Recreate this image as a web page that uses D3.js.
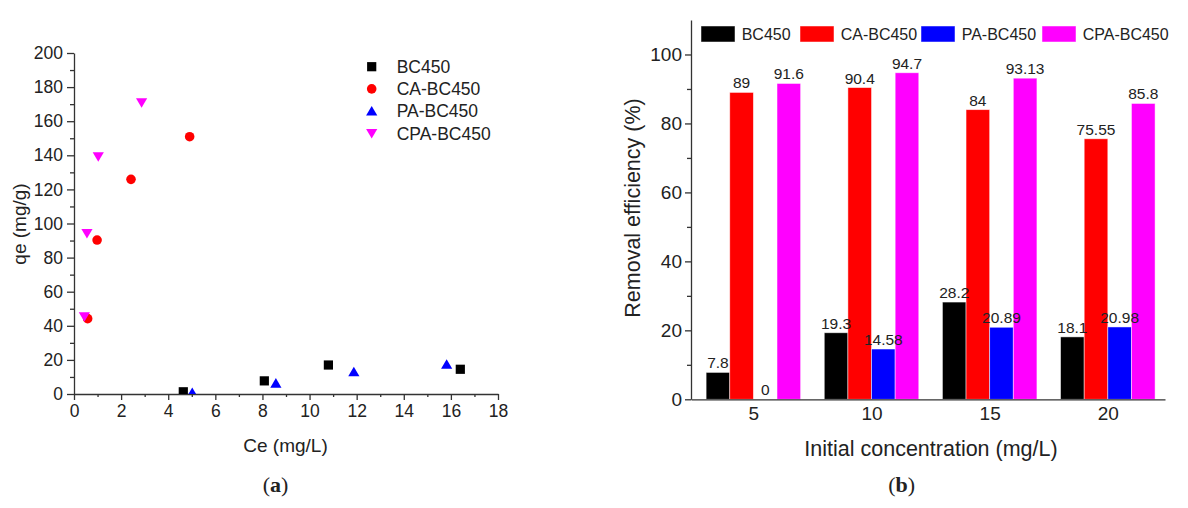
<!DOCTYPE html>
<html>
<head>
<meta charset="utf-8">
<script src="https://d3js.org/d3.v7.min.js"></script>
<style>
body { margin: 0; background: #fff; }
svg { display: block; }
svg text { font-family: "Liberation Sans", Arial, sans-serif; fill: #222; }
.axis path, .axis line { stroke: #333; stroke-width: 1.3; }
.caption { font-family: "Liberation Serif", "DejaVu Serif", serif; font-size: 22px; }
</style>
</head>
<body>
<div id="root"></div>
<script>
// ---- (a) isotherm data ----
let seriesNames = ['BC450', 'CA-BC450', 'PA-BC450', 'CPA-BC450'];
let seriesColors = ['#000000', '#ff0000', '#0000ff', '#ff00ff'];
let seriesShapes = ['square', 'circle', 'triangle', 'down'];

let bcCe = [4.64, 8.08, 10.8, 16.4];
let bcQe = [1.3, 7.7, 17, 14.5];
let caCe = [0.58, 0.98, 2.42, 4.91];
let caQe = [44.2, 90.3, 125.9, 150.9];
let paCe = [5.02, 8.57, 11.88, 15.82];
let paQe = [0.8, 6.3, 13, 17.4];
let cpaCe = [0.44, 0.55, 1.03, 2.87];
let cpaQe = [45.4, 94.2, 139.2, 170.9];

// ---- (b) removal efficiency data ----
let concentrations = [5, 10, 15, 20];
let bcEff = [7.8, 19.3, 28.2, 18.1];
let caEff = [89, 90.4, 84, 75.55];
let paEff = [0, 14.58, 20.89, 20.98];
let cpaEff = [91.6, 94.7, 93.13, 85.8];

let svg = d3.select('#root').append('svg')
    .attr('width', 1188)
    .attr('height', 508);

let marker = (shape) => {
    if (shape === 'square') return 'M-4.6,-4.6H4.6V4.6H-4.6Z';
    if (shape === 'circle') return d3.symbol().type(d3.symbolCircle).size(72)();
    if (shape === 'triangle') return 'M0,-5.2L5.6,4.4L-5.6,4.4Z';
    return 'M0,5.2L5.6,-4.4L-5.6,-4.4Z';
};

// ================= chart (a) =================
let xL = d3.scaleLinear().domain([0, 18]).range([74, 498]);
let yL = d3.scaleLinear().domain([0, 200]).range([394, 53]);

svg.append('defs').append('clipPath').attr('id', 'clip-a')
    .append('rect')
    .attr('x', xL(0)).attr('y', yL(200))
    .attr('width', xL(18) - xL(0)).attr('height', yL(0) - yL(200));

let gL = svg.append('g');

gL.append('g').attr('class', 'axis')
    .attr('transform', `translate(0,${yL(0)})`)
    .call(d3.axisBottom(xL).tickValues(d3.range(1, 18, 2)).tickSize(3).tickFormat('').tickSizeOuter(0))
    .call(g => g.select('.domain').remove());
gL.append('g').attr('class', 'axis')
    .attr('transform', `translate(0,${yL(0)})`)
    .call(d3.axisBottom(xL).tickValues(d3.range(0, 19, 2)).tickSize(6).tickSizeOuter(0).tickPadding(5))
    .call(g => g.selectAll('text').attr('font-size', 17.5));

gL.append('g').attr('class', 'axis')
    .attr('transform', `translate(${xL(0)},0)`)
    .call(d3.axisLeft(yL).tickValues(d3.range(10, 200, 20)).tickSize(4).tickFormat('').tickSizeOuter(0))
    .call(g => g.select('.domain').remove());
gL.append('g').attr('class', 'axis')
    .attr('transform', `translate(${xL(0)},0)`)
    .call(d3.axisLeft(yL).tickValues(d3.range(0, 201, 20)).tickSize(7).tickSizeOuter(0).tickPadding(4))
    .call(g => g.selectAll('text').attr('font-size', 17.5));

gL.append('text')
    .attr('transform', `translate(25.5,224) rotate(-90)`)
    .attr('text-anchor', 'middle')
    .attr('font-size', 19)
    .text('qe (mg/g)');
gL.append('text')
    .attr('x', 285.5).attr('y', 452)
    .attr('text-anchor', 'middle')
    .attr('font-size', 19)
    .text('Ce (mg/L)');

let scatterSets = [
    { ce: bcCe, qe: bcQe },
    { ce: caCe, qe: caQe },
    { ce: paCe, qe: paQe },
    { ce: cpaCe, qe: cpaQe }
];
let pts = gL.append('g').attr('clip-path', 'url(#clip-a)');
scatterSets.forEach((s, k) => {
    pts.selectAll(null)
        .data(s.ce.map((c, i) => [c, s.qe[i]]))
        .join('path')
        .attr('transform', d => `translate(${xL(d[0])},${yL(d[1])})`)
        .attr('d', marker(seriesShapes[k]))
        .attr('fill', seriesColors[k]);
});

let legA = gL.append('g');
seriesNames.forEach((name, k) => {
    let y = 66.7 + k * 22.2;
    legA.append('path')
        .attr('transform', `translate(371.7,${y})`)
        .attr('d', marker(seriesShapes[k]))
        .attr('fill', seriesColors[k]);
    legA.append('text')
        .attr('x', 396.7).attr('y', y)
        .attr('dy', '0.36em')
        .attr('font-size', 17.5)
        .text(name);
});

svg.append('text').attr('class', 'caption')
    .attr('x', 275.5).attr('y', 491.5)
    .attr('text-anchor', 'middle')
    .call(t => {
        t.append('tspan').text('(');
        t.append('tspan').attr('font-weight', 'bold').text('a');
        t.append('tspan').text(')');
    });

// ================= chart (b) =================
let xR = d3.scaleLinear().domain([2.36, 22.42]).range([691, 1165]);
let yR = d3.scaleLinear().domain([0, 110]).range([399.3, 20]);
let effSets = [bcEff, caEff, paEff, cpaEff];

let gR = svg.append('g');

gR.append('g').attr('class', 'axis')
    .attr('transform', `translate(${xR.range()[0]},0)`)
    .call(d3.axisLeft(yR).tickValues(d3.range(10, 100, 20)).tickSize(4).tickFormat('').tickSizeOuter(0))
    .call(g => g.select('.domain').remove());
gR.append('g').attr('class', 'axis')
    .attr('transform', `translate(${xR.range()[0]},0)`)
    .call(d3.axisLeft(yR).tickValues(d3.range(0, 101, 20)).tickSize(6).tickSizeOuter(0).tickPadding(3))
    .call(g => g.selectAll('text').attr('font-size', 19));

let bars = gR.append('g');
let barLabels = gR.append('g');
effSets.forEach((vals, k) => {
    let rows = vals.map((v, i) => [concentrations[i], v]);
    bars.selectAll(null)
        .data(rows)
        .join('rect')
        .attr('x', d => xR(d[0] - 2 + k))
        .attr('width', xR(1) - xR(0))
        .attr('y', d => yR(d[1]))
        .attr('height', d => yR(0) - yR(d[1]))
        .attr('fill', seriesColors[k])
        .attr('stroke', '#fff')
        .attr('stroke-opacity', 0.6)
        .attr('stroke-width', 0.8);
    barLabels.selectAll(null)
        .data(rows)
        .join('text')
        .attr('x', d => xR(d[0] - 1.5 + k))
        .attr('y', d => yR(d[1]) - 4)
        .attr('text-anchor', 'middle')
        .attr('font-size', 15.5)
        .text(d => String(d[1]));
});

gR.append('g').attr('class', 'axis')
    .attr('transform', `translate(0,${yR(0)})`)
    .call(d3.axisBottom(xR).tickValues(concentrations).tickSize(0).tickSizeOuter(0).tickPadding(7))
    .call(g => g.selectAll('.tick line').remove())
    .call(g => g.selectAll('text').attr('font-size', 19));

gR.append('text')
    .attr('transform', `translate(640,208) rotate(-90)`)
    .attr('text-anchor', 'middle')
    .attr('font-size', 21.5)
    .text('Removal efficiency (%)');
gR.append('text')
    .attr('x', 931).attr('y', 456)
    .attr('text-anchor', 'middle')
    .attr('font-size', 21.5)
    .text('Initial concentration (mg/L)');

let legendX = [701, 800, 921, 1042];
let legB = gR.append('g');
seriesNames.forEach((name, k) => {
    legB.append('rect')
        .attr('x', legendX[k]).attr('y', 26)
        .attr('width', 34).attr('height', 16)
        .attr('fill', seriesColors[k])
        .attr('stroke', '#fff').attr('stroke-opacity', 0.6).attr('stroke-width', 0.8);
    legB.append('text')
        .attr('x', legendX[k] + 40.7).attr('y', 34)
        .attr('dy', '0.36em')
        .attr('font-size', 16)
        .text(name);
});

svg.append('text').attr('class', 'caption')
    .attr('x', 901.7).attr('y', 491.5)
    .attr('text-anchor', 'middle')
    .call(t => {
        t.append('tspan').text('(');
        t.append('tspan').attr('font-weight', 'bold').text('b');
        t.append('tspan').text(')');
    });
</script>
</body>
</html>
